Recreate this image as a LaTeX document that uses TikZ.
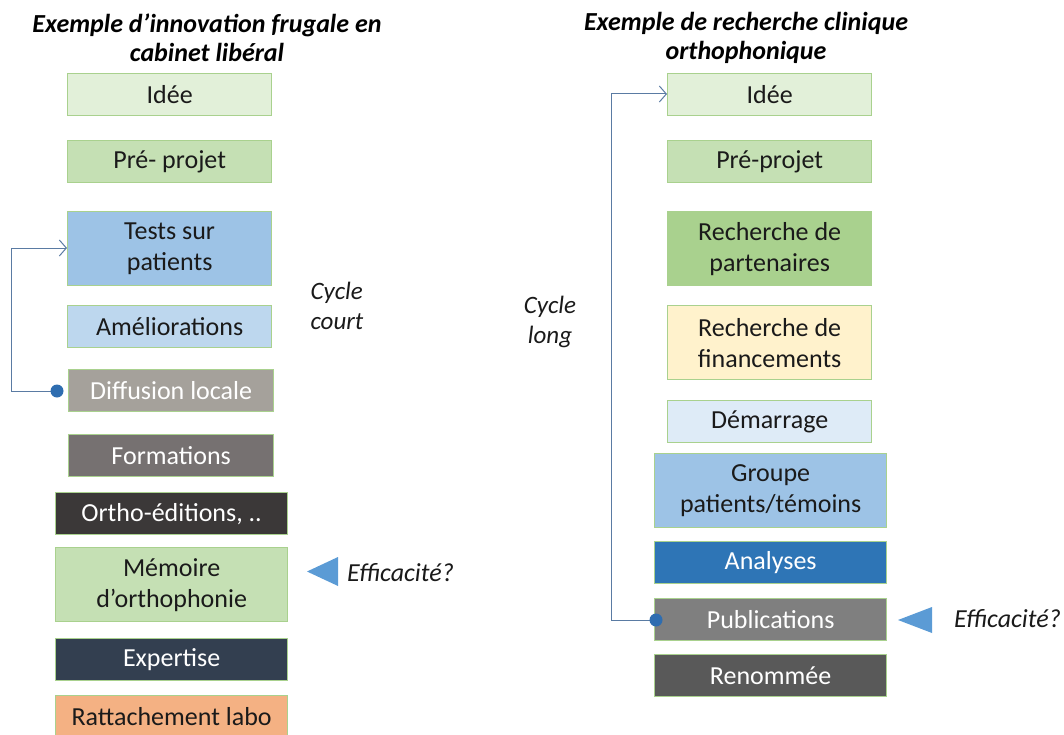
\documentclass[tikz,border=0pt]{standalone}
\usepackage{fontspec}
\setmainfont{Carlito}
\usetikzlibrary{arrows.meta}
\definecolor{bordergreen}{HTML}{A9D18E}
\definecolor{cIdee}{HTML}{E2F0D9}
\definecolor{cPre}{HTML}{C5E0B4}
\definecolor{cTests}{HTML}{9DC3E6}
\definecolor{cAmel}{HTML}{BDD7EE}
\definecolor{cDiff}{HTML}{A5A19B}
\definecolor{cForm}{HTML}{767171}
\definecolor{cOrtho}{HTML}{3B3838}
\definecolor{cExp}{HTML}{333F50}
\definecolor{cRatt}{HTML}{F4B183}
\definecolor{cPart}{HTML}{A9D18E}
\definecolor{cFin}{HTML}{FFF2CC}
\definecolor{cDem}{HTML}{DEEBF7}
\definecolor{cAna}{HTML}{2E75B6}
\definecolor{cPub}{HTML}{7F7F7F}
\definecolor{cRen}{HTML}{595959}
\definecolor{conncol}{HTML}{5A7BA3}
\definecolor{dotcol}{HTML}{2E6DB0}
\definecolor{tricol}{HTML}{5B9BD5}
\definecolor{txt}{HTML}{1A1A1A}
\begin{document}
\begin{tikzpicture}[x=1pt,y=-1pt,
  every node/.style={font=\fontsize{26}{31}\selectfont, text=txt},
  box/.style={draw=bordergreen, line width=1.3pt, anchor=north west, inner sep=0pt, align=center},
  wbox/.style={box, text=white},
  conn/.style={draw=conncol, line width=1pt},
  lbl/.style={font=\fontsize{25}{30}\selectfont\itshape},
  efl/.style={font=\fontsize{26}{32}\selectfont\itshape},
  ttl/.style={font=\fontsize{26}{29}\selectfont\bfseries\itshape, align=center, text=black}
]
\useasboundingbox (0,0) rectangle (1064,735);
% titles
\node[ttl] (t1) at (207,38) {Exemple d’innovation frugale en\\cabinet libéral};
\node[ttl] (t2) at (746,38) {Exemple de recherche clinique\\orthophonique};
% left column
\node[box, fill=cIdee, minimum width=204pt, minimum height=42pt] (l1) at (67,73) {Idée};
\node[box, fill=cPre, minimum width=204pt, minimum height=42pt] (l2) at (67,140) {Pré- projet};
\node[box, fill=cTests, minimum width=204pt, minimum height=74pt] (l3) at (67,211) {Tests sur\\patients};
\node[box, fill=cAmel, minimum width=204pt, minimum height=42pt] (l4) at (67,305) {Améliorations};
\node[wbox, fill=cDiff, minimum width=205pt, minimum height=42pt] (l5) at (68,369) {Diffusion locale};
\node[wbox, fill=cForm, minimum width=205pt, minimum height=42pt] (l6) at (68,434) {Formations};
\node[wbox, fill=cOrtho, minimum width=232pt, minimum height=42pt] (l7) at (55,492) {Ortho-éditions, ..};
\node[box, fill=cPre, minimum width=232pt, minimum height=74pt] (l8) at (55,547) {Mémoire\\d’orthophonie};
\node[wbox, fill=cExp, minimum width=232pt, minimum height=42pt] (l9) at (55,638) {Expertise};
\node[box, fill=cRatt, minimum width=232pt, minimum height=42pt] (l10) at (55,695) {Rattachement labo};
% right column
\node[box, fill=cIdee, minimum width=204pt, minimum height=42pt] (r1) at (667,73) {Idée};
\node[box, fill=cPre, minimum width=204pt, minimum height=42pt] (r2) at (667,140) {Pré-projet};
\node[box, fill=cPart, minimum width=204pt, minimum height=74pt] (r3) at (667,211) {Recherche de\\partenaires};
\node[box, fill=cFin, minimum width=204pt, minimum height=74pt] (r4) at (667,305) {Recherche de\\financements};
\node[box, fill=cDem, minimum width=204pt, minimum height=42pt] (r5) at (667,400) {Démarrage};
\node[box, fill=cTests, minimum width=232pt, minimum height=74pt] (r6) at (654,453) {Groupe\\patients/témoins};
\node[wbox, fill=cAna, minimum width=232pt, minimum height=42pt] (r7) at (654,541) {Analyses};
\node[wbox, fill=cPub, minimum width=232pt, minimum height=42pt] (r8) at (654,598) {Publications};
\node[wbox, fill=cRen, minimum width=232pt, minimum height=42pt] (r9) at (654,654) {Renommée};
% cycle labels
\node[lbl, anchor=west, align=left] (cc) at (307,306) {Cycle\\court};
\node[lbl, anchor=center, align=center] (cl) at (550,322) {Cycle\\long};
% connectors
\coordinate (d1) at (57,391);
\coordinate (d2) at (656,620);
\draw[conn, -{Straight Barb[length=7pt,width=16pt,line width=1pt]}] (d1) -- (11,391) |- (l3.west |- 0,248);
\draw[conn, -{Straight Barb[length=7pt,width=16pt,line width=1pt]}] (d2) -- (611,620) |- (r1.west |- 0,94);
\fill[dotcol] (d1) circle (6.5);
\fill[dotcol] (d2) circle (6.5);
% efficacite
\fill[tricol] (338,557) -- (338,586) -- (307,571.5) -- cycle;
\node[efl, anchor=west, inner sep=0pt] (e1) at (347,573) {Efficacité?};
\fill[tricol] (932,607) -- (932,633) -- (898,620) -- cycle;
\node[efl, anchor=west, inner sep=0pt] (e2) at (954,619) {Efficacité?};
\end{tikzpicture}
\end{document}
